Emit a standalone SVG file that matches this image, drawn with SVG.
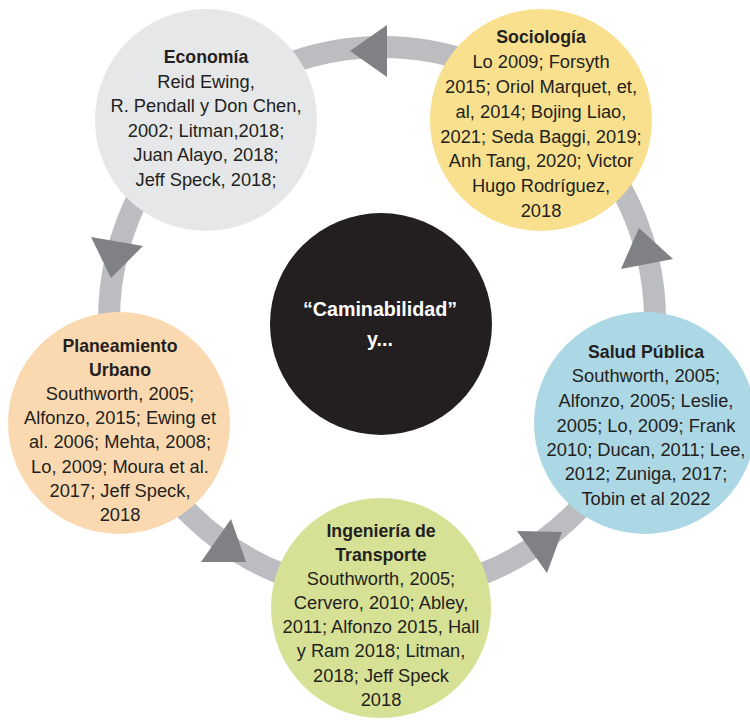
<svg xmlns="http://www.w3.org/2000/svg" width="750" height="721" viewBox="0 0 750 721">
<style>
.t{font-family:"Liberation Sans",Arial,sans-serif;font-size:18.3px;fill:#231f20;text-anchor:middle}
.b{font-weight:bold;font-size:17.7px}
.c{font-family:"Liberation Sans",Arial,sans-serif;font-weight:bold;font-size:19.7px;fill:#ffffff;text-anchor:middle}
.ring{fill:none;stroke:#bcbdc0;stroke-width:22}
.arr{fill:#808184}
</style>
<rect width="750" height="721" fill="#ffffff"/>
<g id="connectors">
<circle class="ring" cx="382" cy="320" r="273"/>
<polygon class="arr" points="350,51 387,25 387,77"/>
<polygon class="arr" points="111,278 91,237 143,246"/>
<polygon class="arr" points="246,562 231,519 201,562"/>
<polygon class="arr" points="562,532 517,531 547,573"/>
<polygon class="arr" points="639,228 673,259 621,269"/>
</g>
<g id="economia">
<circle cx="206" cy="120" r="111" fill="#e6e7e8"/>
<text class="t b" x="206" y="63">Economía</text>
<text class="t" x="206" y="88">Reid Ewing,</text>
<text class="t" x="206" y="112">R. Pendall y Don Chen,</text>
<text class="t" x="206" y="137">2002; Litman,2018;</text>
<text class="t" x="206" y="161">Juan Alayo, 2018;</text>
<text class="t" x="206" y="186">Jeff Speck, 2018;</text>
</g>
<g id="sociologia">
<circle cx="541" cy="120" r="111" fill="#f8e08e"/>
<text class="t b" x="541" y="43">Sociología</text>
<text class="t" x="541" y="68">Lo 2009; Forsyth</text>
<text class="t" x="541" y="93">2015; Oriol Marquet, et,</text>
<text class="t" x="541" y="118">al, 2014; Bojing Liao,</text>
<text class="t" x="541" y="143">2021; Seda Baggi, 2019;</text>
<text class="t" x="541" y="167">Anh Tang, 2020; Victor</text>
<text class="t" x="541" y="192">Hugo Rodríguez,</text>
<text class="t" x="541" y="217">2018</text>
</g>
<g id="planeamiento">
<circle cx="119" cy="423" r="111" fill="#fbd9b0"/>
<text class="t b" x="120" y="352">Planeamiento</text>
<text class="t b" x="120" y="376">Urbano</text>
<text class="t" x="120" y="400">Southworth, 2005;</text>
<text class="t" x="120" y="424">Alfonzo, 2015; Ewing et</text>
<text class="t" x="120" y="448">al. 2006; Mehta, 2008;</text>
<text class="t" x="120" y="473">Lo, 2009; Moura et al.</text>
<text class="t" x="120" y="497">2017; Jeff Speck,</text>
<text class="t" x="120" y="521">2018</text>
</g>
<g id="salud">
<circle cx="645" cy="423" r="111" fill="#acd7e5"/>
<text class="t b" x="646" y="358">Salud Pública</text>
<text class="t" x="646" y="382">Southworth, 2005;</text>
<text class="t" x="646" y="407">Alfonzo, 2005; Leslie,</text>
<text class="t" x="646" y="432">2005; Lo, 2009; Frank</text>
<text class="t" x="646" y="456">2010; Ducan, 2011; Lee,</text>
<text class="t" x="646" y="480">2012; Zuniga, 2017;</text>
<text class="t" x="646" y="505">Tobin et al 2022</text>
</g>
<g id="ingenieria">
<circle cx="381" cy="608" r="110" fill="#d7e195"/>
<text class="t b" x="381" y="537">Ingeniería de</text>
<text class="t b" x="381" y="561">Transporte</text>
<text class="t" x="381" y="585">Southworth, 2005;</text>
<text class="t" x="381" y="609">Cervero, 2010; Abley,</text>
<text class="t" x="381" y="633">2011; Alfonzo 2015, Hall</text>
<text class="t" x="381" y="657">y Ram 2018; Litman,</text>
<text class="t" x="381" y="682">2018; Jeff Speck</text>
<text class="t" x="381" y="706">2018</text>
</g>
<g id="centro">
<circle cx="381" cy="324" r="111" fill="#231f20"/>
<text class="c" x="380" y="316">“Caminabilidad”</text>
<text class="c" x="380" y="346">y...</text>
</g>
</svg>
